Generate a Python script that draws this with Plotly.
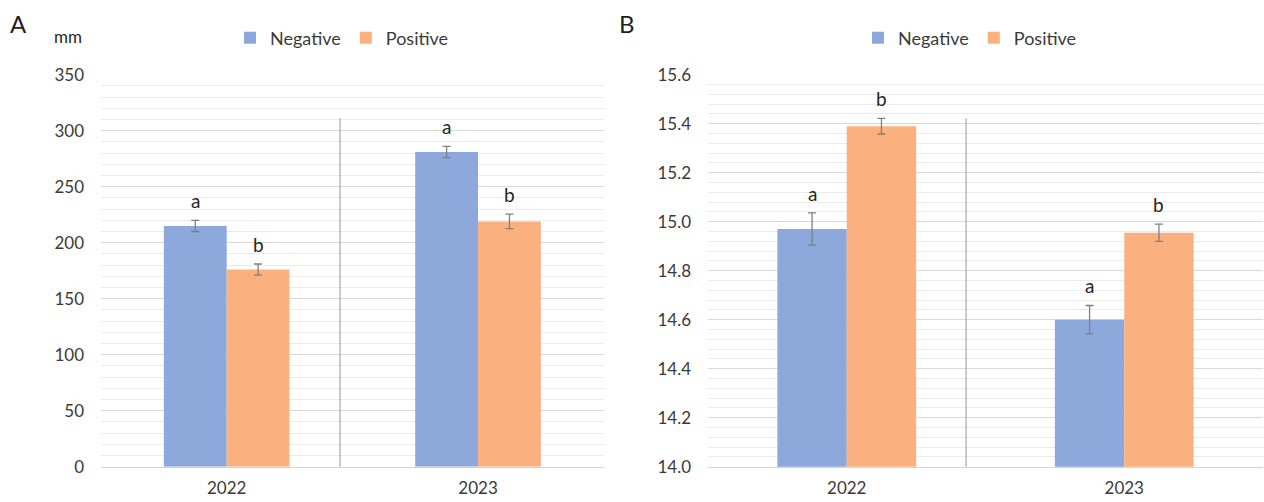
import plotly.graph_objects as go

# Data
years = ["2022", "2023"]
groups = ["Negative", "Positive"]

# Panel A (mm)
a_negative = [215, 281]
a_negative_err = [5, 5]
a_positive = [176, 219]
a_positive_err = [5, 6.5]
a_letters_negative = ["a", "a"]
a_letters_positive = ["b", "b"]

# Panel B
b_negative = [14.97, 14.60]
b_negative_err = [0.066, 0.058]
b_positive = [15.39, 14.955]
b_positive_err = [0.032, 0.035]
b_letters_negative = ["a", "a"]
b_letters_positive = ["b", "b"]

colors = {"Negative": "#8DA9DB", "Positive": "#FBB07F"}
FONT = "Lato"
TXT = "#3a3a3a"
W, H = 1264, 502

xpos = list(range(len(years)))

fig = go.Figure()


def add_panel(xa, ya, legend, neg, neg_err, pos, pos_err):
    for name, vals, errs in (("Negative", neg, neg_err), ("Positive", pos, pos_err)):
        fig.add_trace(go.Bar(
            x=xpos, y=vals, name=name, xaxis=xa, yaxis=ya, legend=legend,
            marker=dict(color=colors[name], line=dict(width=0)),
            error_y=dict(type="data", array=errs, visible=True,
                         color="#808080", thickness=1.3, width=4),
        ))


add_panel("x", "y", "legend", a_negative, a_negative_err, a_positive, a_positive_err)
add_panel("x2", "y2", "legend2", b_negative, b_negative_err, b_positive, b_positive_err)

ydom = [1 - 466.7 / H, 1 - 74.7 / H]

xaxis_common = dict(
    range=[-0.5, 1.5], tickvals=xpos, ticktext=years,
    showgrid=False, zeroline=False, ticks="",
    showline=True, linecolor="#d4d4d4", linewidth=1.3,
    tickfont=dict(family=FONT, size=17, color=TXT), ticklabelstandoff=6,
    automargin=False, fixedrange=True,
)
yaxis_common = dict(
    domain=ydom, showgrid=True, zeroline=False, ticks="",
    gridcolor="#d9d9d9", gridwidth=1.3,
    tickfont=dict(family=FONT, size=17, color=TXT), ticklabelstandoff=16,
    automargin=False, fixedrange=True,
)
legend_common = dict(
    orientation="h", y=1 - 38 / H, yanchor="middle",
    font=dict(family=FONT, size=18, color=TXT), itemwidth=30,
    bgcolor="rgba(0,0,0,0)", traceorder="normal",
)

fig.update_layout(
    width=W, height=H,
    margin=dict(l=0, r=0, t=0, b=0, pad=0),
    paper_bgcolor="white", plot_bgcolor="white",
    barmode="group", bargap=0.5, bargroupgap=0,
    font=dict(family=FONT, color=TXT),
    xaxis=dict(domain=[101 / W, 603.7 / W], anchor="y", **xaxis_common),
    yaxis=dict(range=[0, 350], dtick=50, tickformat="d", anchor="x",
               minor=dict(dtick=10, showgrid=True, gridcolor="#ebebeb", gridwidth=1.3),
               **yaxis_common),
    xaxis2=dict(domain=[708 / W, 1263 / W], anchor="y2", **xaxis_common),
    yaxis2=dict(range=[14.0, 15.6], dtick=0.2, tickformat=".1f", anchor="x2",
                minor=dict(dtick=0.04, showgrid=True, gridcolor="#ebebeb", gridwidth=1.3),
                **yaxis_common),
    legend=dict(x=230 / W, xanchor="left", **legend_common),
    legend2=dict(x=858 / W, xanchor="left", **legend_common),
    showlegend=True,
)

# Vertical separators between the year groups
for xd, yd, xf in (("x domain", "y domain", 0.4755), ("x2 domain", "y2 domain", 0.465)):
    fig.add_shape(type="line", xref=xd, yref=yd, x0=xf, x1=xf, y0=0, y1=0.889,
                  line=dict(color="#a6a6a6", width=1.2))

# Significance letters above the error bars
def add_letters(xa, ya, neg, neg_err, pos, pos_err, ln, lp):
    for i in xpos:
        for dx, v, e, t in ((-0.125, neg[i], neg_err[i], ln[i]), (0.125, pos[i], pos_err[i], lp[i])):
            fig.add_annotation(x=i + dx, y=v + e, xref=xa, yref=ya, text=t,
                               showarrow=False, yanchor="bottom", yshift=6,
                               font=dict(family=FONT, size=19, color="#262626"))


add_letters("x", "y", a_negative, a_negative_err, a_positive, a_positive_err,
            a_letters_negative, a_letters_positive)
add_letters("x2", "y2", b_negative, b_negative_err, b_positive, b_positive_err,
            b_letters_negative, b_letters_positive)

# Panel labels and unit
for txt, px, py, size in (("A", 18, 24, 24), ("B", 627, 24, 24), ("mm", 68, 36, 17)):
    fig.add_annotation(x=px / W, y=1 - py / H, xref="paper", yref="paper", text=txt,
                       xanchor="center", yanchor="middle", showarrow=False,
                       font=dict(family=FONT, size=size, color="#1f1f1f"))

fig.write_html("out.html")
